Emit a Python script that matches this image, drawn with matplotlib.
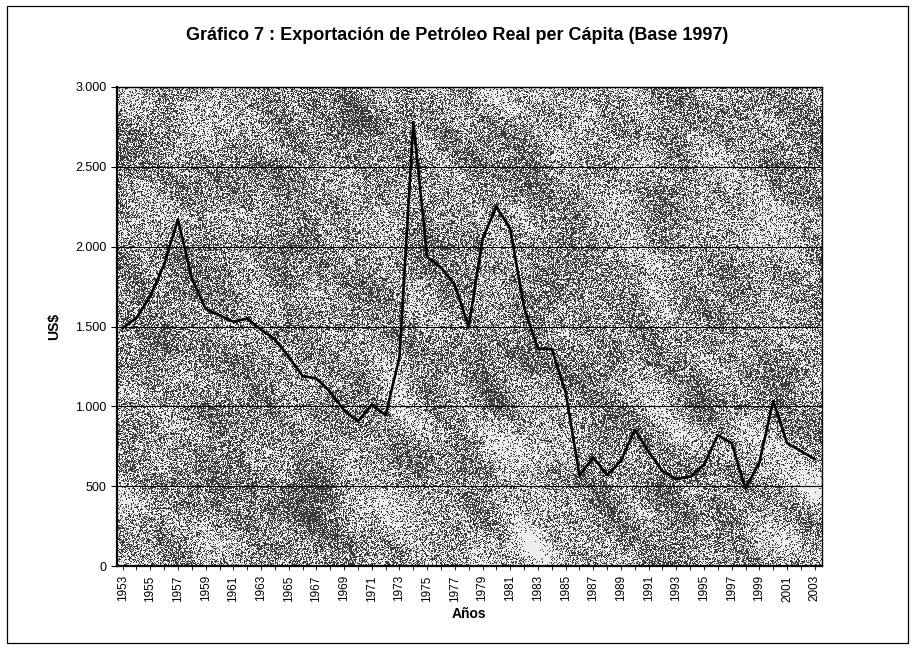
import numpy as np
import matplotlib
matplotlib.use("Agg")
import matplotlib.pyplot as plt
from matplotlib.ticker import FuncFormatter, MultipleLocator
from matplotlib.patches import Rectangle

plt.rcParams['font.family'] = ['Liberation Sans', 'DejaVu Sans']

years = list(range(1953, 2004))
us_per_capita = [1490, 1555, 1690, 1890, 2170, 1800, 1610, 1570, 1530, 1550,
                 1480, 1420, 1310, 1190, 1175, 1090, 975, 905, 1010, 945,
                 1310, 2780, 1935, 1870, 1760, 1495, 2050, 2250, 2110, 1620,
                 1360, 1360, 1090, 570, 680, 570, 660, 855, 715, 595,
                 545, 560, 635, 820, 770, 485, 650, 1035, 770, 720, 670]
tick_years = years[::2]

fig = plt.figure(figsize=(9.15, 6.53), dpi=100)
ax = fig.add_axes([0.128, 0.133, 0.770, 0.734])

# grey dithered texture like the scanned excel background (diagonal streaks)
rng = np.random.default_rng(11)
h, w = 480, 705
noise = rng.normal(size=(h, w))
fy = np.fft.fftfreq(h)[:, None]
fx = np.fft.fftfreq(w)[None, :]
u = (fx - fy) / np.sqrt(2)
v = (fx + fy) / np.sqrt(2)
filt = np.exp(-(u**2 / (2 * 0.018**2) + v**2 / (2 * 0.008**2)))
blob = np.real(np.fft.ifft2(np.fft.fft2(noise) * filt))
blob = (blob - blob.mean()) / blob.std()
p = np.clip(0.52 + 0.11 * blob, 0, 1)
tex = (rng.random((h, w)) < p).astype(float)
ax.imshow(tex, cmap='gray', vmin=-0.35, vmax=1.1, aspect='auto', interpolation='nearest',
          extent=[1952.6, 2003.5, 0, 3000], zorder=0)

ax.plot(years, us_per_capita, color='black', linewidth=1.9, zorder=3)

ax.set_xlim(1952.6, 2003.5)
ax.set_ylim(0, 3000)
ax.yaxis.set_major_locator(MultipleLocator(500))
ax.yaxis.set_major_formatter(FuncFormatter(lambda v, pos: f"{int(v):,}".replace(",", ".")))
ax.grid(axis='y', color='black', linewidth=0.8, zorder=1)
ax.set_xticks(tick_years)
ax.set_xticklabels([str(y) for y in tick_years], rotation=90, fontsize=8.5)
ax.set_xticks(years, minor=True)
ax.tick_params(axis='y', labelsize=9, length=4, width=0.8)
ax.tick_params(axis='x', which='both', length=3, width=0.6)
for s in ax.spines.values():
    s.set_linewidth(1.0)
ax.spines['left'].set_linewidth(1.6)
ax.spines['bottom'].set_linewidth(1.6)

ax.set_ylabel("US$", fontsize=10, fontweight='bold', labelpad=10)
ax.set_xlabel("Años", fontsize=10, fontweight='bold', labelpad=4)
fig.text(0.5, 0.945, "Gráfico 7 : Exportación de Petróleo Real per Cápita (Base 1997)",
         ha='center', va='center', fontsize=13, fontweight='bold')

fig.patches.append(Rectangle((0.008, 0.016), 0.984, 0.975, transform=fig.transFigure,
                             fill=False, edgecolor='black', linewidth=0.9))

fig.savefig("out.png", dpi=100)
